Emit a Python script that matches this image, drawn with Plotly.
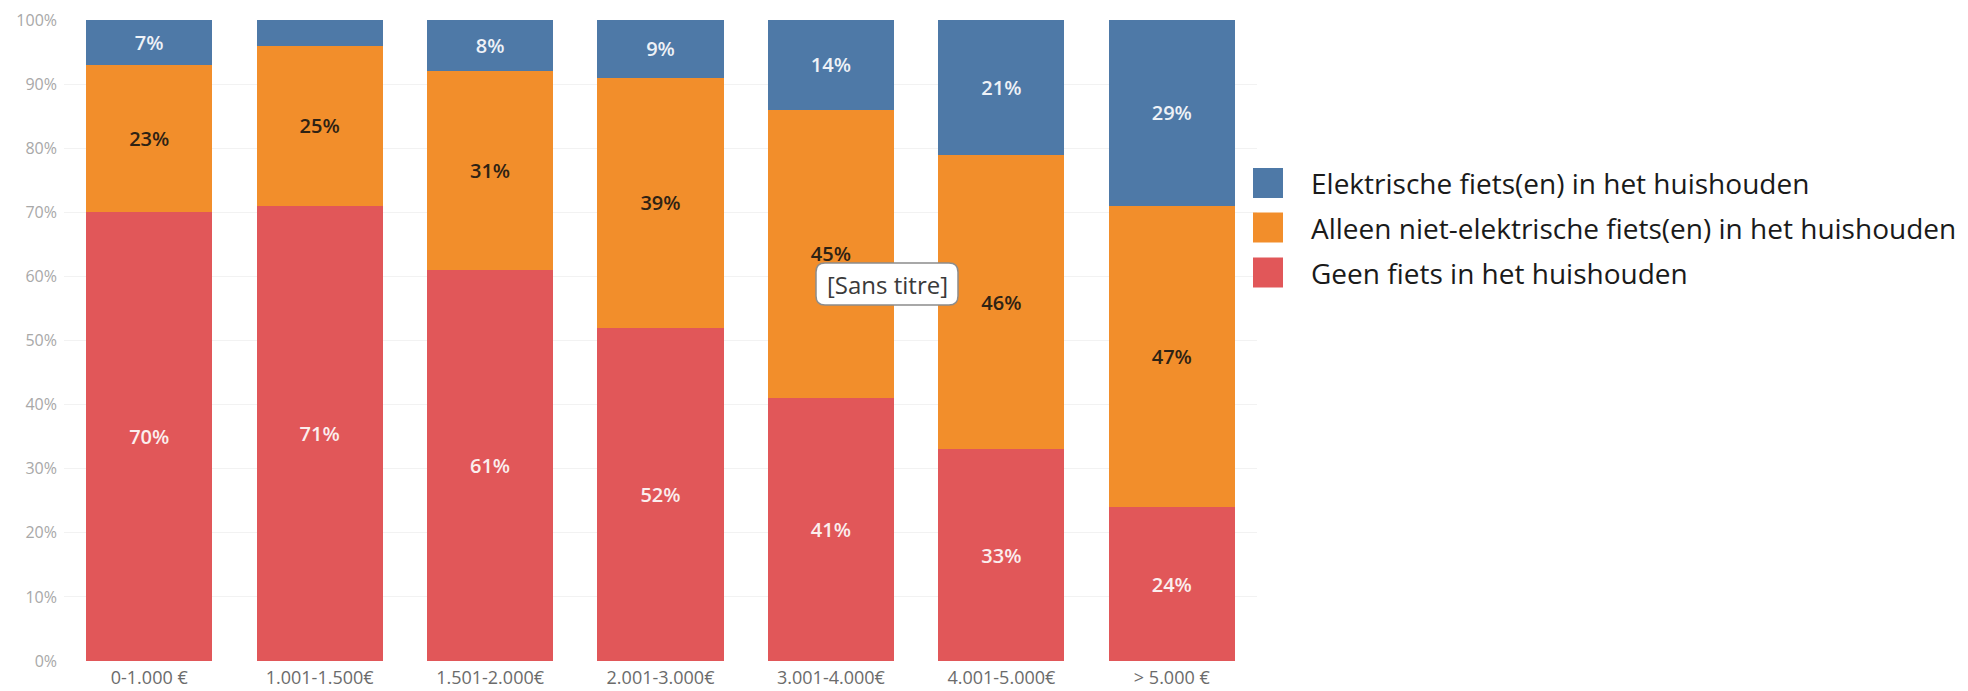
import plotly.graph_objects as go

categories = ["0-1.000 €", "1.001-1.500€", "1.501-2.000€", "2.001-3.000€",
              "3.001-4.000€", "4.001-5.000€", "> 5.000 €"]
geen_fiets = [70, 71, 61, 52, 41, 33, 24]
alleen_niet_elektrisch = [23, 25, 31, 39, 45, 46, 47]
elektrisch = [7, 4, 8, 9, 14, 21, 29]
series_names = ["Elektrische fiets(en) in het huishouden",
                "Alleen niet-elektrische fiets(en) in het huishouden",
                "Geen fiets in het huishouden"]
y_ticks = [0, 10, 20, 30, 40, 50, 60, 70, 80, 90, 100]

BLUE, ORANGE, RED = "#4e79a7", "#f28e2b", "#e15759"

# page body has an 8px margin, so the figure is drawn 8px in from the window edge
OFF = 8
W, H = 1968 - OFF, 691 - OFF
ML, MR, MT, MB = 64 - OFF, 711, 20 - OFF, 30
PW, PH = W - ML - MR, H - MT - MB


def px(x):  # window pixel -> paper
    return (x - OFF - ML) / PW


def py(y):
    return (OFF + MT + PH - y) / PH


def labels(vals, skip_below=5):
    return [f"{v}%" if v >= skip_below else "" for v in vals]


fig = go.Figure()
fig.add_trace(go.Bar(x=categories, y=geen_fiets, name=series_names[2], marker_color=RED,
                     text=labels(geen_fiets),
                     textfont=dict(color="#fbeeee", size=20, family="Open Sans", weight=600)))
fig.add_trace(go.Bar(x=categories, y=alleen_niet_elektrisch, name=series_names[1], marker_color=ORANGE,
                     text=labels(alleen_niet_elektrisch),
                     textfont=dict(color="#2e2214", size=20, family="Open Sans", weight=600)))
fig.add_trace(go.Bar(x=categories, y=elektrisch, name=series_names[0], marker_color=BLUE,
                     text=labels(elektrisch),
                     textfont=dict(color="#eef2f7", size=20, family="Open Sans", weight=600)))
fig.update_traces(marker_line_width=0, constraintext="none", hoverinfo="skip",
                  textposition="inside", insidetextanchor="middle")

# manual legend with large squares, like the source
legend_rows = [(series_names[0], BLUE, 183), (series_names[1], ORANGE, 227.5), (series_names[2], RED, 272.5)]
for name, col, cy in legend_rows:
    fig.add_shape(type="rect", xref="paper", yref="paper",
                  x0=px(1253), x1=px(1283), y0=py(cy + 15), y1=py(cy - 15),
                  fillcolor=col, line_width=0)
    fig.add_annotation(xref="paper", yref="paper", x=px(1309), y=py(cy), text=name,
                       showarrow=False, xanchor="left", yanchor="middle",
                       font=dict(size=28, color="#1a1a1a", family="Open Sans"))

# tooltip box with rounded corners
bx0, bx1, by0, by1, r = 816, 958, 263, 305, 9
path = (f"M {px(bx0 + r)} {py(by0)} L {px(bx1 - r)} {py(by0)} "
        f"Q {px(bx1)} {py(by0)} {px(bx1)} {py(by0 + r)} L {px(bx1)} {py(by1 - r)} "
        f"Q {px(bx1)} {py(by1)} {px(bx1 - r)} {py(by1)} L {px(bx0 + r)} {py(by1)} "
        f"Q {px(bx0)} {py(by1)} {px(bx0)} {py(by1 - r)} L {px(bx0)} {py(by0 + r)} "
        f"Q {px(bx0)} {py(by0)} {px(bx0 + r)} {py(by0)} Z")
fig.add_shape(type="path", xref="paper", yref="paper", path=path,
              fillcolor="white", line=dict(color="#8c8c8c", width=1.5))
fig.add_annotation(xref="paper", yref="paper", x=px((bx0 + bx1) / 2), y=py((by0 + by1) / 2),
                   text="[Sans titre]", showarrow=False, xanchor="center", yanchor="middle",
                   font=dict(size=24, color="#3a3a3a", family="Open Sans"))

fig.update_layout(
    width=W, height=H, barmode="stack", bargap=0.26,
    margin=dict(l=ML, r=MR, t=MT, b=MB),
    paper_bgcolor="white", plot_bgcolor="white", showlegend=False,
    font=dict(family="Open Sans"),
)
fig.update_xaxes(tickfont=dict(size=18, color="#6b6b6b"), ticklabelstandoff=4,
                 showgrid=False, automargin=False)
fig.update_yaxes(range=[0, 100], tickvals=y_ticks, ticktext=[f"{t}%" for t in y_ticks],
                 tickfont=dict(size=16, color="#a8a8a8"), showgrid=True, gridcolor="#f2f2f2",
                 zeroline=False, ticklabelstandoff=6, automargin=False)

fig.write_html("out.html")
